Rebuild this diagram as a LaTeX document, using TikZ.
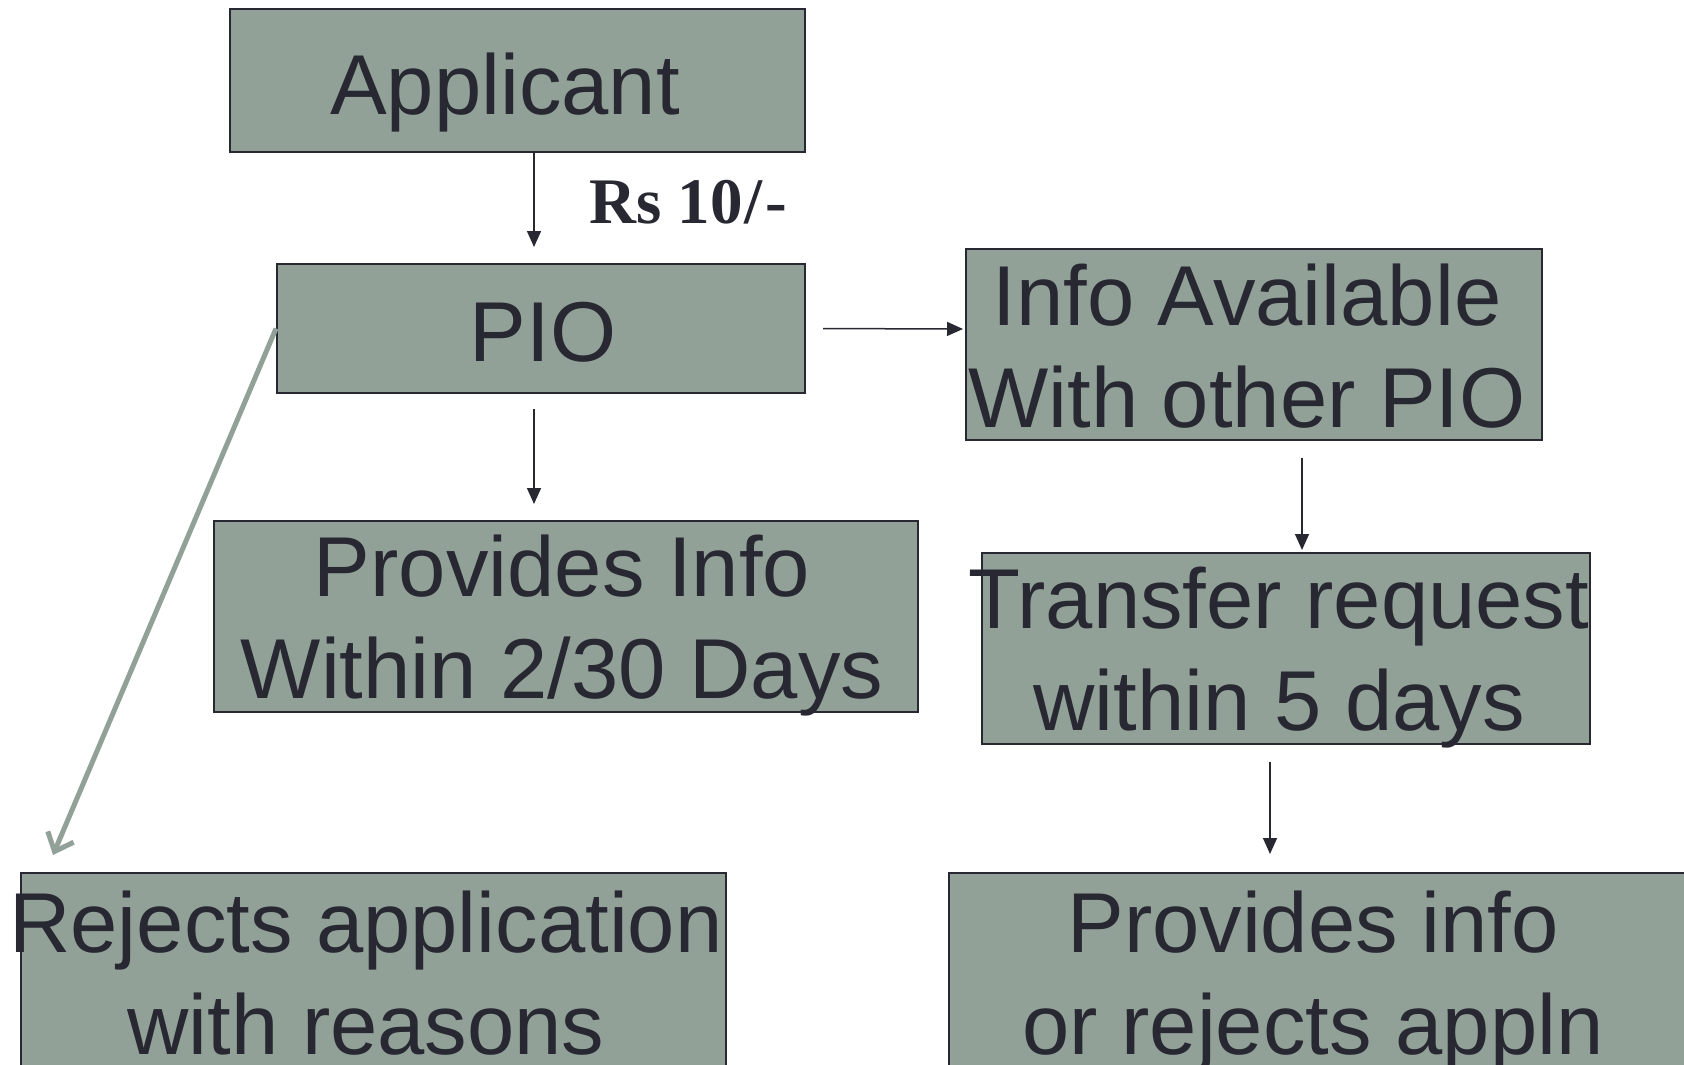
\documentclass[tikz,border=0pt]{standalone}
\usepackage{fontspec}
\setmainfont{Liberation Sans}
\newfontfamily\feefont{Liberation Serif}
\usetikzlibrary{arrows.meta}
\definecolor{boxgreen}{RGB}{146,161,151}
\definecolor{inkdark}{RGB}{40,40,50}
\tikzset{box/.style={ % Grey-green step boxes, text is put on top separately
           draw=inkdark,
           line width=1pt,
           fill=boxgreen,
           inner sep=0pt},
         boxtext/.style={ % Big sans text, every line carries a \strut
           text=inkdark,
           align=center,
           inner sep=0pt,
           font=\fontsize{42.5}{51}\selectfont},
         every edge/.style={ % Thin dark arrows between the boxes
           draw=inkdark,
           line width=0.75pt,
           -{Triangle[length=8pt,width=7pt]}}}

\begin{document}
\begin{tikzpicture}[x=0.5pt,y=-0.5pt]
\useasboundingbox (0,0) rectangle (1684,1064);

\begin{scope}[every node/.style={box}]
    \node[minimum width=287.5pt, minimum height=71.5pt] (applicant) at (517.5,80.5) {};
    \node[minimum width=264pt, minimum height=64.5pt] (pio) at (541,328.5) {};
    \node[minimum width=288pt, minimum height=95.5pt] (avail) at (1254,344.5) {};
    \node[minimum width=352pt, minimum height=95.5pt] (provides) at (566,616.5) {};
    \node[minimum width=304pt, minimum height=95.5pt] (transfer) at (1286,648.5) {};
    \node[minimum width=352.5pt, minimum height=100pt] (rejects) at (373.5,973) {};
    \node[minimum width=370.5pt, minimum height=100pt] (final) at (1319.5,973) {};
\end{scope}

\begin{scope}[every node/.style={boxtext}]
    \node (applicanttext) at (505,94.6) {\strut Applicant};
    \node (piotext) at (543,340.6) {\strut PIO};
    \node (availtext) at (1247,355.6) {\strut Info Available\\\strut With other PIO};
    \node (providestext) at (562,626.6) {\strut Provides Info\\\strut Within 2/30 Days};
    \node (transfertext) at (1279,658.6) {\strut Transfer request\\\strut within 5 days};
    \node (rejectstext) at (366,982.6) {\strut Rejects application\\\strut with reasons};
    \node (finaltext) at (1313,982.6) {\strut Provides info\\\strut or rejects appln};
\end{scope}

\node[anchor=base west, inner sep=0pt, text=inkdark,
      font=\feefont\bfseries\fontsize{32.5}{39}\selectfont] (fee) at (589,223) {Rs 10\kern1pt/\kern1.5pt-};

\begin{scope}
    \path [shorten >=8pt] ([xshift=8.25pt]applicant.south) edge ([xshift=-3.5pt]pio.north);
    \path [shorten <=7.5pt, shorten >=8pt] ([xshift=-3.5pt]pio.south) edge ([xshift=-16pt]provides.north);
    \path [shorten <=8.5pt, shorten >=1pt] (pio.east) edge ([yshift=7.75pt]avail.west);
    \path [shorten <=8.5pt, shorten >=1pt] ([xshift=24pt]avail.south) edge ([xshift=8pt]transfer.north);
    \path [shorten <=8.5pt, shorten >=9pt] ([xshift=-8pt]transfer.south) edge ([xshift=-24.75pt]final.north);
    % rejection goes straight down the left side
    \draw [boxgreen, line width=2.5pt, -{Straight Barb[length=8pt,width=14pt]}]
        (pio.west) -- ([shift={(16.5pt,8.5pt)}]rejects.north west);
\end{scope}
\end{tikzpicture}
\end{document}
